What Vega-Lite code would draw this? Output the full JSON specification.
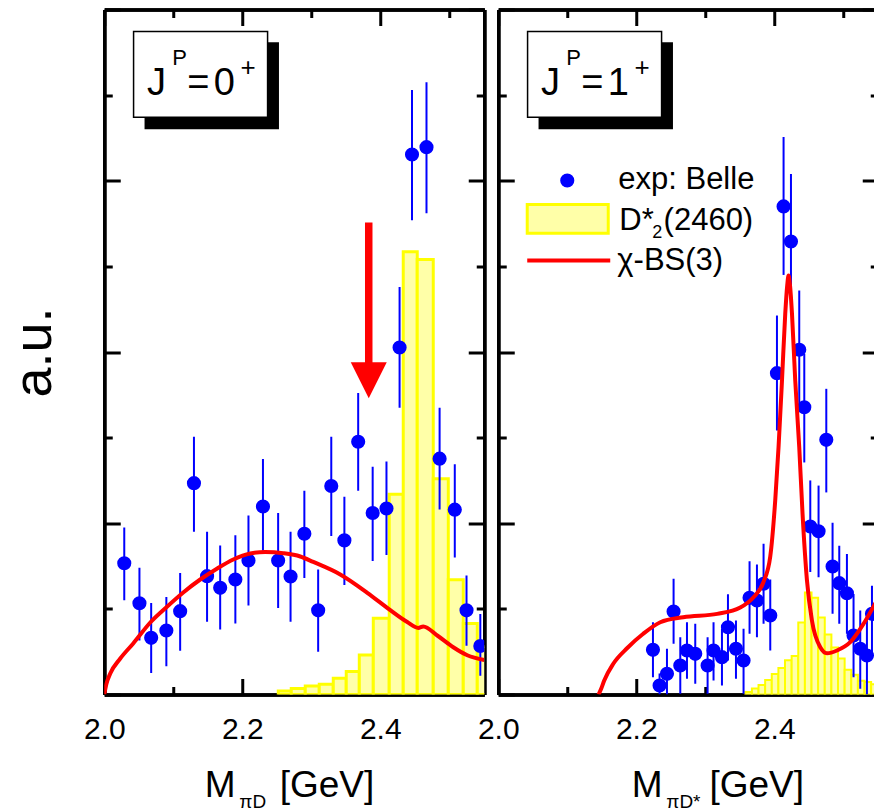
{
  "$schema": "https://vega.github.io/schema/vega-lite/v6.json",
  "padding": {"left": 7.25, "top": 7.5, "right": 0, "bottom": 0},
  "background": "white",
  "config": {
    "font": "Liberation Sans",
    "view": {"stroke": null},
    "axis": {
      "grid": false,
      "domainColor": "black",
      "domainWidth": 3.5,
      "tickColor": "black",
      "tickWidth": 3,
      "labelColor": "black",
      "titleColor": "black",
      "labelFont": "Liberation Sans",
      "titleFont": "Liberation Sans",
      "titleFontWeight": "normal",
      "labelFlush": false,
      "labelOverlap": false
    },
    "text": {"font": "Liberation Sans", "color": "black"}
  },
  "datasets": {
    "pts0": [
      {"x": 2.029, "y": 1.533, "lo": 1.10, "hi": 1.95},
      {"x": 2.051, "y": 1.066, "lo": 0.63, "hi": 1.48},
      {"x": 2.068, "y": 0.662, "lo": 0.25, "hi": 1.07},
      {"x": 2.090, "y": 0.747, "lo": 0.33, "hi": 1.14},
      {"x": 2.110, "y": 0.973, "lo": 0.51, "hi": 1.42},
      {"x": 2.130, "y": 2.468, "lo": 1.90, "hi": 3.01},
      {"x": 2.149, "y": 1.382, "lo": 0.85, "hi": 1.90},
      {"x": 2.168, "y": 1.246, "lo": 0.76, "hi": 1.74},
      {"x": 2.190, "y": 1.343, "lo": 0.83, "hi": 1.86},
      {"x": 2.209, "y": 1.565, "lo": 1.04, "hi": 2.09},
      {"x": 2.230, "y": 2.196, "lo": 1.68, "hi": 2.75},
      {"x": 2.252, "y": 1.565, "lo": 1.01, "hi": 2.12},
      {"x": 2.270, "y": 1.378, "lo": 0.85, "hi": 1.90},
      {"x": 2.290, "y": 1.877, "lo": 1.36, "hi": 2.38},
      {"x": 2.310, "y": 0.983, "lo": 0.50, "hi": 1.46},
      {"x": 2.329, "y": 2.435, "lo": 1.85, "hi": 3.01},
      {"x": 2.348, "y": 1.800, "lo": 1.28, "hi": 2.31},
      {"x": 2.368, "y": 2.952, "lo": 2.38, "hi": 3.52},
      {"x": 2.389, "y": 2.120, "lo": 1.56, "hi": 2.66},
      {"x": 2.409, "y": 2.172, "lo": 1.63, "hi": 2.72},
      {"x": 2.428, "y": 4.053, "lo": 3.35, "hi": 4.76},
      {"x": 2.446, "y": 6.306, "lo": 5.54, "hi": 7.06},
      {"x": 2.467, "y": 6.392, "lo": 5.62, "hi": 7.15},
      {"x": 2.486, "y": 2.754, "lo": 2.16, "hi": 3.35},
      {"x": 2.508, "y": 2.159, "lo": 1.60, "hi": 2.69},
      {"x": 2.525, "y": 0.983, "lo": 0.57, "hi": 1.39},
      {"x": 2.545, "y": 0.566, "lo": 0.22, "hi": 0.94}
    ],
    "hist0": [
      {"x0": 2.2522, "x1": 2.2710, "h": 0.04},
      {"x0": 2.2710, "x1": 2.2913, "h": 0.07},
      {"x0": 2.2913, "x1": 2.3116, "h": 0.10},
      {"x0": 2.3116, "x1": 2.3319, "h": 0.12},
      {"x0": 2.3319, "x1": 2.3507, "h": 0.19},
      {"x0": 2.3507, "x1": 2.3696, "h": 0.27},
      {"x0": 2.3696, "x1": 2.3899, "h": 0.46},
      {"x0": 2.3899, "x1": 2.4130, "h": 0.89},
      {"x0": 2.4130, "x1": 2.4333, "h": 2.34},
      {"x0": 2.4333, "x1": 2.4536, "h": 5.17},
      {"x0": 2.4536, "x1": 2.4768, "h": 5.08},
      {"x0": 2.4768, "x1": 2.4986, "h": 2.52},
      {"x0": 2.4986, "x1": 2.5203, "h": 1.34},
      {"x0": 2.5203, "x1": 2.5406, "h": 0.83},
      {"x0": 2.5406, "x1": 2.5594, "h": 0.56}
    ],
    "curve0": [
      {"x": 2.0000, "y": 0.000},
      {"x": 2.0029, "y": 0.117},
      {"x": 2.0087, "y": 0.245},
      {"x": 2.0232, "y": 0.420},
      {"x": 2.0420, "y": 0.596},
      {"x": 2.0667, "y": 0.841},
      {"x": 2.0913, "y": 1.028},
      {"x": 2.1145, "y": 1.192},
      {"x": 2.1391, "y": 1.343},
      {"x": 2.1638, "y": 1.472},
      {"x": 2.1870, "y": 1.577},
      {"x": 2.2116, "y": 1.647},
      {"x": 2.2333, "y": 1.664},
      {"x": 2.2594, "y": 1.650},
      {"x": 2.2841, "y": 1.612},
      {"x": 2.3029, "y": 1.548},
      {"x": 2.3420, "y": 1.402},
      {"x": 2.3812, "y": 1.188},
      {"x": 2.4145, "y": 0.985},
      {"x": 2.4391, "y": 0.846},
      {"x": 2.4551, "y": 0.778},
      {"x": 2.4623, "y": 0.794},
      {"x": 2.4826, "y": 0.689},
      {"x": 2.5058, "y": 0.552},
      {"x": 2.5261, "y": 0.458},
      {"x": 2.5507, "y": 0.403}
    ],
    "pts1": [
      {"x": 2.2242, "y": 0.522, "lo": 0.202, "hi": 0.844},
      {"x": 2.2338, "y": 0.105, "lo": 0.000, "hi": 0.245},
      {"x": 2.2445, "y": 0.241, "lo": 0.000, "hi": 0.534},
      {"x": 2.2541, "y": 0.969, "lo": 0.592, "hi": 1.351},
      {"x": 2.2638, "y": 0.339, "lo": 0.008, "hi": 0.669},
      {"x": 2.2735, "y": 0.514, "lo": 0.183, "hi": 0.844},
      {"x": 2.2855, "y": 0.475, "lo": 0.125, "hi": 0.825},
      {"x": 2.3034, "y": 0.339, "lo": 0.008, "hi": 0.669},
      {"x": 2.3120, "y": 0.514, "lo": 0.163, "hi": 0.844},
      {"x": 2.3242, "y": 0.436, "lo": 0.105, "hi": 0.767},
      {"x": 2.3329, "y": 0.786, "lo": 0.397, "hi": 1.172},
      {"x": 2.3445, "y": 0.534, "lo": 0.183, "hi": 0.864},
      {"x": 2.3555, "y": 0.397, "lo": 0.008, "hi": 0.767},
      {"x": 2.3642, "y": 1.129, "lo": 0.709, "hi": 1.557},
      {"x": 2.3749, "y": 1.098, "lo": 0.669, "hi": 1.518},
      {"x": 2.3845, "y": 1.293, "lo": 0.825, "hi": 1.760},
      {"x": 2.3942, "y": 0.923, "lo": 0.514, "hi": 1.343},
      {"x": 2.4039, "y": 3.753, "lo": 3.083, "hi": 4.426},
      {"x": 2.4135, "y": 5.700, "lo": 4.900, "hi": 6.510},
      {"x": 2.4242, "y": 5.290, "lo": 4.550, "hi": 6.080},
      {"x": 2.4362, "y": 4.026, "lo": 3.355, "hi": 4.718},
      {"x": 2.4435, "y": 3.355, "lo": 2.710, "hi": 3.980},
      {"x": 2.4522, "y": 1.962, "lo": 1.430, "hi": 2.500},
      {"x": 2.4642, "y": 1.907, "lo": 1.370, "hi": 2.440},
      {"x": 2.4754, "y": 2.974, "lo": 2.360, "hi": 3.570},
      {"x": 2.4845, "y": 1.495, "lo": 0.944, "hi": 2.005},
      {"x": 2.4942, "y": 1.300, "lo": 0.827, "hi": 1.738},
      {"x": 2.5053, "y": 1.183, "lo": 0.710, "hi": 1.640},
      {"x": 2.5149, "y": 0.689, "lo": 0.202, "hi": 1.175},
      {"x": 2.5246, "y": 0.534, "lo": 0.066, "hi": 0.980},
      {"x": 2.5343, "y": 0.455, "lo": 0.000, "hi": 0.940},
      {"x": 2.5416, "y": 0.942, "lo": 0.480, "hi": 1.270}
    ],
    "hist1": [
      {"x0": 2.3580, "x1": 2.3676, "h": 0.03},
      {"x0": 2.3676, "x1": 2.3772, "h": 0.07},
      {"x0": 2.3772, "x1": 2.3868, "h": 0.11},
      {"x0": 2.3868, "x1": 2.3964, "h": 0.17},
      {"x0": 2.3964, "x1": 2.4060, "h": 0.24},
      {"x0": 2.4060, "x1": 2.4156, "h": 0.31},
      {"x0": 2.4156, "x1": 2.4252, "h": 0.40},
      {"x0": 2.4252, "x1": 2.4348, "h": 0.45},
      {"x0": 2.4348, "x1": 2.4444, "h": 0.84},
      {"x0": 2.4444, "x1": 2.4540, "h": 1.19},
      {"x0": 2.4540, "x1": 2.4636, "h": 1.13},
      {"x0": 2.4636, "x1": 2.4732, "h": 0.90},
      {"x0": 2.4732, "x1": 2.4828, "h": 0.70},
      {"x0": 2.4828, "x1": 2.4924, "h": 0.55},
      {"x0": 2.4924, "x1": 2.5020, "h": 0.42},
      {"x0": 2.5020, "x1": 2.5116, "h": 0.29},
      {"x0": 2.5116, "x1": 2.5212, "h": 0.23},
      {"x0": 2.5212, "x1": 2.5308, "h": 0.16},
      {"x0": 2.5308, "x1": 2.5404, "h": 0.145},
      {"x0": 2.5404, "x1": 2.5500, "h": 0.12}
    ],
    "curve1": [
      {"x": 2.1454, "y": 0.000},
      {"x": 2.1493, "y": 0.070},
      {"x": 2.1536, "y": 0.164},
      {"x": 2.1667, "y": 0.359},
      {"x": 2.1870, "y": 0.543},
      {"x": 2.2101, "y": 0.709},
      {"x": 2.2348, "y": 0.844},
      {"x": 2.2681, "y": 0.903},
      {"x": 2.3174, "y": 0.942},
      {"x": 2.3507, "y": 1.016},
      {"x": 2.3696, "y": 1.133},
      {"x": 2.3841, "y": 1.308},
      {"x": 2.3942, "y": 1.612},
      {"x": 2.4014, "y": 2.266},
      {"x": 2.4062, "y": 2.888},
      {"x": 2.4112, "y": 3.667},
      {"x": 2.4159, "y": 4.446},
      {"x": 2.4188, "y": 4.780},
      {"x": 2.4207, "y": 4.893},
      {"x": 2.4228, "y": 4.780},
      {"x": 2.4257, "y": 4.446},
      {"x": 2.4304, "y": 3.667},
      {"x": 2.4362, "y": 2.888},
      {"x": 2.4410, "y": 2.110},
      {"x": 2.4474, "y": 1.331},
      {"x": 2.4546, "y": 0.864},
      {"x": 2.4667, "y": 0.552},
      {"x": 2.4764, "y": 0.482},
      {"x": 2.4909, "y": 0.514},
      {"x": 2.5101, "y": 0.611},
      {"x": 2.5294, "y": 0.826},
      {"x": 2.5507, "y": 1.130}
    ]
  },
  "bounds": "flush",
  "spacing": 14,
  "hconcat": [
    {
      "width": 380,
      "height": 685,
      "resolve": {"axis": {"x": "independent", "y": "independent"}},
      "layer": [
        {
          "data": {"name": "hist0"},
          "mark": {"type": "rect", "fill": "#ffffa8", "stroke": "#ffff00", "strokeWidth": 3, "clip": true},
          "encoding": {
            "x": {"field": "x0", "type": "quantitative", "scale": {"domain": [2.0, 2.5507], "nice": false, "zero": false},
                  "axis": {"orient": "bottom", "values": [2.0, 2.2, 2.4], "format": ".1f", "tickSize": -16, "labelFontSize": 30, "labelPadding": 35.5, "title": null}},
            "x2": {"field": "x1"},
            "y": {"field": "h", "type": "quantitative", "scale": {"domain": [0, 8], "nice": false, "zero": false},
                  "axis": {"orient": "left", "values": [0, 2, 4, 6, 8], "tickSize": -16, "labels": false, "title": "a.u.", "titleFontSize": 54, "titlePadding": 41}},
            "y2": {"datum": 0}
          }
        },
        {
          "data": {"name": "pts0"},
          "mark": {"type": "rule", "color": "#0000ff", "strokeWidth": 2, "clip": true},
          "encoding": {
            "x": {"field": "x", "type": "quantitative", "scale": {"domain": [2.0, 2.5507], "nice": false, "zero": false},
                  "axis": {"orient": "bottom", "values": [2.1, 2.3, 2.5], "tickSize": -8, "labels": false, "title": null}},
            "y": {"field": "lo", "type": "quantitative", "scale": {"domain": [0, 8], "nice": false, "zero": false},
                  "axis": {"orient": "left", "values": [1, 3, 5, 7], "tickSize": -8, "labels": false, "title": null}},
            "y2": {"field": "hi"}
          }
        },
        {
          "data": {"name": "pts0"},
          "mark": {"type": "point", "shape": "circle", "filled": true, "size": 200, "color": "#0000ff", "opacity": 1, "clip": true},
          "encoding": {
            "x": {"field": "x", "type": "quantitative", "scale": {"domain": [2.0, 2.5507], "nice": false, "zero": false},
                  "axis": {"orient": "top", "values": [2.0, 2.2, 2.4], "tickSize": -16, "labels": false, "title": null}},
            "y": {"field": "y", "type": "quantitative", "scale": {"domain": [0, 8], "nice": false, "zero": false},
                  "axis": {"orient": "right", "values": [0, 2, 4, 6, 8], "tickSize": -16, "labels": false, "title": null}}
          }
        },
        {
          "data": {"name": "curve0"},
          "mark": {"type": "line", "color": "#ff0000", "strokeWidth": 4, "interpolate": "monotone", "clip": true},
          "encoding": {
            "x": {"field": "x", "type": "quantitative", "scale": {"domain": [2.0, 2.5507], "nice": false, "zero": false},
                  "axis": {"orient": "top", "values": [2.1, 2.3, 2.5], "tickSize": -8, "labels": false, "title": null}},
            "y": {"field": "y", "type": "quantitative", "scale": {"domain": [0, 8], "nice": false, "zero": false},
                  "axis": {"orient": "right", "values": [1, 3, 5, 7], "tickSize": -8, "labels": false, "title": null}}
          }
        },
        {
          "data": {"values": [{}]},
          "mark": {"type": "rule", "color": "#ff0000", "strokeWidth": 7.5, "strokeCap": "butt"},
          "encoding": {
            "x": {"datum": 2.3833, "type": "quantitative", "axis": null},
            "y": {"datum": 5.512, "type": "quantitative", "axis": null},
            "y2": {"datum": 3.85}
          }
        },
        {
          "data": {"values": [{}]},
          "mark": {"type": "point", "shape": "M-1,-1L1,-1L0,1Z", "filled": true, "size": 1296, "color": "#ff0000", "opacity": 1},
          "encoding": {
            "x": {"datum": 2.3833, "type": "quantitative", "axis": null},
            "y": {"datum": 3.67, "type": "quantitative", "axis": null}
          }
        },
        {
          "data": {"values": [{}]},
          "mark": {"type": "rect", "fill": "black"},
          "encoding": {
            "x": {"datum": 2.0584, "type": "quantitative", "axis": null},
            "x2": {"datum": 2.2532},
            "y": {"datum": 7.618, "type": "quantitative", "axis": null},
            "y2": {"datum": 6.602}
          }
        },
        {
          "data": {"values": [{}]},
          "mark": {"type": "rect", "fill": "white", "stroke": "black", "strokeWidth": 1.5},
          "encoding": {
            "x": {"datum": 2.0425, "type": "quantitative", "axis": null},
            "x2": {"datum": 2.2367},
            "y": {"datum": 7.743, "type": "quantitative", "axis": null},
            "y2": {"datum": 6.742}
          }
        },
        {
          "data": {"values": [{}]},
          "mark": {"type": "text", "text": "J", "fontSize": 38, "align": "left", "baseline": "alphabetic"},
          "encoding": {"x": {"datum": 2.0620, "type": "quantitative", "axis": null}, "y": {"datum": 7.007, "type": "quantitative", "axis": null}}
        },
        {
          "data": {"values": [{}]},
          "mark": {"type": "text", "text": "P", "fontSize": 22, "align": "left", "baseline": "alphabetic"},
          "encoding": {"x": {"datum": 2.0986, "type": "quantitative", "axis": null}, "y": {"datum": 7.346, "type": "quantitative", "axis": null}}
        },
        {
          "data": {"values": [{}]},
          "mark": {"type": "text", "text": "=", "fontSize": 38, "align": "left", "baseline": "alphabetic"},
          "encoding": {"x": {"datum": 2.1203, "type": "quantitative", "axis": null}, "y": {"datum": 7.007, "type": "quantitative", "axis": null}}
        },
        {
          "data": {"values": [{}]},
          "mark": {"type": "text", "text": "0", "fontSize": 38, "align": "left", "baseline": "alphabetic"},
          "encoding": {"x": {"datum": 2.1586, "type": "quantitative", "axis": null}, "y": {"datum": 7.007, "type": "quantitative", "axis": null}}
        },
        {
          "data": {"values": [{}]},
          "mark": {"type": "text", "text": "+", "fontSize": 26, "align": "left", "baseline": "alphabetic"},
          "encoding": {"x": {"datum": 2.1975, "type": "quantitative", "axis": null}, "y": {"datum": 7.225, "type": "quantitative", "axis": null}}
        },
        {
          "data": {"values": [{}]},
          "mark": {"type": "text", "text": "M", "fontSize": 37, "align": "left", "baseline": "alphabetic"},
          "encoding": {"x": {"datum": 2.1457, "type": "quantitative", "axis": null}, "y": {"datum": -1.199, "type": "quantitative", "axis": null}}
        },
        {
          "data": {"values": [{}]},
          "mark": {"type": "text", "text": "πD", "fontSize": 19, "align": "left", "baseline": "alphabetic"},
          "encoding": {"x": {"datum": 2.1957, "type": "quantitative", "axis": null}, "y": {"datum": -1.33, "type": "quantitative", "axis": null}}
        },
        {
          "data": {"values": [{}]},
          "mark": {"type": "text", "text": "[GeV]", "fontSize": 37, "align": "left", "baseline": "alphabetic"},
          "encoding": {"x": {"datum": 2.2543, "type": "quantitative", "axis": null}, "y": {"datum": -1.199, "type": "quantitative", "axis": null}}
        }
      ]
    },
    {
      "width": 380,
      "height": 685,
      "resolve": {"axis": {"x": "independent", "y": "independent"}},
      "layer": [
        {
          "data": {"name": "hist1"},
          "mark": {"type": "rect", "fill": "#ffffa8", "stroke": "#ffff00", "strokeWidth": 2, "clip": true},
          "encoding": {
            "x": {"field": "x0", "type": "quantitative", "scale": {"domain": [2.0, 2.5507], "nice": false, "zero": false},
                  "axis": {"orient": "bottom", "values": [2.0, 2.2, 2.4], "format": ".1f", "tickSize": -16, "labelFontSize": 30, "labelPadding": 35.5, "title": null}},
            "x2": {"field": "x1"},
            "y": {"field": "h", "type": "quantitative", "scale": {"domain": [0, 8], "nice": false, "zero": false},
                  "axis": {"orient": "left", "values": [0, 2, 4, 6, 8], "tickSize": -16, "labels": false, "title": null}},
            "y2": {"datum": 0}
          }
        },
        {
          "data": {"name": "pts1"},
          "mark": {"type": "rule", "color": "#0000ff", "strokeWidth": 2, "clip": true},
          "encoding": {
            "x": {"field": "x", "type": "quantitative", "scale": {"domain": [2.0, 2.5507], "nice": false, "zero": false},
                  "axis": {"orient": "bottom", "values": [2.1, 2.3, 2.5], "tickSize": -8, "labels": false, "title": null}},
            "y": {"field": "lo", "type": "quantitative", "scale": {"domain": [0, 8], "nice": false, "zero": false},
                  "axis": {"orient": "left", "values": [1, 3, 5, 7], "tickSize": -8, "labels": false, "title": null}},
            "y2": {"field": "hi"}
          }
        },
        {
          "data": {"name": "pts1"},
          "mark": {"type": "point", "shape": "circle", "filled": true, "size": 200, "color": "#0000ff", "opacity": 1, "clip": true},
          "encoding": {
            "x": {"field": "x", "type": "quantitative", "scale": {"domain": [2.0, 2.5507], "nice": false, "zero": false},
                  "axis": {"orient": "top", "values": [2.0, 2.2, 2.4], "tickSize": -16, "labels": false, "title": null}},
            "y": {"field": "y", "type": "quantitative", "scale": {"domain": [0, 8], "nice": false, "zero": false},
                  "axis": {"orient": "right", "values": [0, 2, 4, 6, 8], "tickSize": -16, "labels": false, "title": null}}
          }
        },
        {
          "data": {"name": "curve1"},
          "mark": {"type": "line", "color": "#ff0000", "strokeWidth": 4, "interpolate": "monotone", "clip": true},
          "encoding": {
            "x": {"field": "x", "type": "quantitative", "scale": {"domain": [2.0, 2.5507], "nice": false, "zero": false},
                  "axis": {"orient": "top", "values": [2.1, 2.3, 2.5], "tickSize": -8, "labels": false, "title": null}},
            "y": {"field": "y", "type": "quantitative", "scale": {"domain": [0, 8], "nice": false, "zero": false},
                  "axis": {"orient": "right", "values": [1, 3, 5, 7], "tickSize": -8, "labels": false, "title": null}}
          }
        },
        {
          "data": {"values": [{}]},
          "mark": {"type": "rect", "fill": "black"},
          "encoding": {
            "x": {"datum": 2.0584, "type": "quantitative", "axis": null},
            "x2": {"datum": 2.2532},
            "y": {"datum": 7.618, "type": "quantitative", "axis": null},
            "y2": {"datum": 6.602}
          }
        },
        {
          "data": {"values": [{}]},
          "mark": {"type": "rect", "fill": "white", "stroke": "black", "strokeWidth": 1.5},
          "encoding": {
            "x": {"datum": 2.0425, "type": "quantitative", "axis": null},
            "x2": {"datum": 2.2367},
            "y": {"datum": 7.743, "type": "quantitative", "axis": null},
            "y2": {"datum": 6.742}
          }
        },
        {
          "data": {"values": [{}]},
          "mark": {"type": "text", "text": "J", "fontSize": 38, "align": "left", "baseline": "alphabetic"},
          "encoding": {"x": {"datum": 2.0620, "type": "quantitative", "axis": null}, "y": {"datum": 7.007, "type": "quantitative", "axis": null}}
        },
        {
          "data": {"values": [{}]},
          "mark": {"type": "text", "text": "P", "fontSize": 22, "align": "left", "baseline": "alphabetic"},
          "encoding": {"x": {"datum": 2.0986, "type": "quantitative", "axis": null}, "y": {"datum": 7.346, "type": "quantitative", "axis": null}}
        },
        {
          "data": {"values": [{}]},
          "mark": {"type": "text", "text": "=", "fontSize": 38, "align": "left", "baseline": "alphabetic"},
          "encoding": {"x": {"datum": 2.1203, "type": "quantitative", "axis": null}, "y": {"datum": 7.007, "type": "quantitative", "axis": null}}
        },
        {
          "data": {"values": [{}]},
          "mark": {"type": "text", "text": "1", "fontSize": 38, "align": "left", "baseline": "alphabetic"},
          "encoding": {"x": {"datum": 2.1586, "type": "quantitative", "axis": null}, "y": {"datum": 7.007, "type": "quantitative", "axis": null}}
        },
        {
          "data": {"values": [{}]},
          "mark": {"type": "text", "text": "+", "fontSize": 26, "align": "left", "baseline": "alphabetic"},
          "encoding": {"x": {"datum": 2.1975, "type": "quantitative", "axis": null}, "y": {"datum": 7.225, "type": "quantitative", "axis": null}}
        },
        {
          "data": {"values": [{}]},
          "mark": {"type": "point", "shape": "circle", "filled": true, "size": 200, "color": "#0000ff", "opacity": 1},
          "encoding": {"x": {"datum": 2.1, "type": "quantitative", "axis": null}, "y": {"datum": 6.003, "type": "quantitative", "axis": null}}
        },
        {
          "data": {"values": [{}]},
          "mark": {"type": "text", "text": "exp: Belle", "fontSize": 31, "align": "left", "baseline": "alphabetic"},
          "encoding": {"x": {"datum": 2.1739, "type": "quantitative", "axis": null}, "y": {"datum": 5.904, "type": "quantitative", "axis": null}}
        },
        {
          "data": {"values": [{}]},
          "mark": {"type": "rect", "fill": "#ffffa8", "stroke": "#ffff00", "strokeWidth": 3},
          "encoding": {
            "x": {"datum": 2.042, "type": "quantitative", "axis": null},
            "x2": {"datum": 2.1594},
            "y": {"datum": 5.723, "type": "quantitative", "axis": null},
            "y2": {"datum": 5.388}
          }
        },
        {
          "data": {"values": [{}]},
          "mark": {"type": "text", "text": "D*", "fontSize": 31, "align": "left", "baseline": "alphabetic"},
          "encoding": {"x": {"datum": 2.1754, "type": "quantitative", "axis": null}, "y": {"datum": 5.419, "type": "quantitative", "axis": null}}
        },
        {
          "data": {"values": [{}]},
          "mark": {"type": "text", "text": "2", "fontSize": 18, "align": "left", "baseline": "alphabetic"},
          "encoding": {"x": {"datum": 2.2232, "type": "quantitative", "axis": null}, "y": {"datum": 5.326, "type": "quantitative", "axis": null}}
        },
        {
          "data": {"values": [{}]},
          "mark": {"type": "text", "text": "(2460)", "fontSize": 31, "align": "left", "baseline": "alphabetic"},
          "encoding": {"x": {"datum": 2.2396, "type": "quantitative", "axis": null}, "y": {"datum": 5.419, "type": "quantitative", "axis": null}}
        },
        {
          "data": {"values": [{}]},
          "mark": {"type": "rule", "color": "#ff0000", "strokeWidth": 4},
          "encoding": {
            "x": {"datum": 2.042, "type": "quantitative", "axis": null},
            "x2": {"datum": 2.1623},
            "y": {"datum": 5.069, "type": "quantitative", "axis": null}
          }
        },
        {
          "data": {"values": [{}]},
          "mark": {"type": "text", "text": "χ-BS(3)", "fontSize": 31, "align": "left", "baseline": "alphabetic"},
          "encoding": {"x": {"datum": 2.1725, "type": "quantitative", "axis": null}, "y": {"datum": 4.952, "type": "quantitative", "axis": null}}
        },
        {
          "data": {"values": [{}]},
          "mark": {"type": "text", "text": "M", "fontSize": 37, "align": "left", "baseline": "alphabetic"},
          "encoding": {"x": {"datum": 2.1935, "type": "quantitative", "axis": null}, "y": {"datum": -1.199, "type": "quantitative", "axis": null}}
        },
        {
          "data": {"values": [{}]},
          "mark": {"type": "text", "text": "πD*", "fontSize": 19, "align": "left", "baseline": "alphabetic"},
          "encoding": {"x": {"datum": 2.2435, "type": "quantitative", "axis": null}, "y": {"datum": -1.33, "type": "quantitative", "axis": null}}
        },
        {
          "data": {"values": [{}]},
          "mark": {"type": "text", "text": "[GeV]", "fontSize": 37, "align": "left", "baseline": "alphabetic"},
          "encoding": {"x": {"datum": 2.3061, "type": "quantitative", "axis": null}, "y": {"datum": -1.199, "type": "quantitative", "axis": null}}
        }
      ]
    }
  ]
}
